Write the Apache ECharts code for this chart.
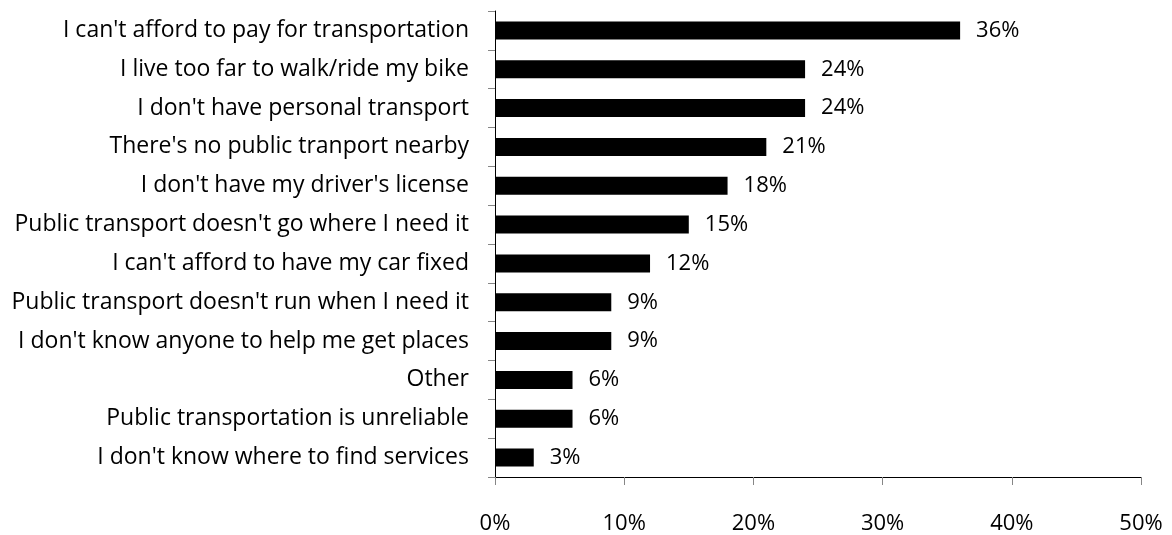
<!DOCTYPE html>
<html>
<head>
<meta charset="utf-8">
<script src="https://cdn.jsdelivr.net/npm/echarts@6/dist/echarts.min.js"></script>
<style>
  html, body { margin: 0; padding: 0; background: #fff; }
  #chart { width: 1172px; height: 535px; }
</style>
</head>
<body>
<div id="chart"></div>
<script>
// Reasons respondents give for transportation barriers (share of respondents, %)
const categories = [
  "I can't afford to pay for transportation",
  "I live too far to walk/ride my bike",
  "I don't have personal transport",
  "There's no public tranport nearby",
  "I don't have my driver's license",
  "Public transport doesn't go where I need it",
  "I can't afford to have my car fixed",
  "Public transport doesn't run when I need it",
  "I don't know anyone to help me get places",
  "Other",
  "Public transportation is unreliable",
  "I don't know where to find services"
];
const values = [36, 24, 24, 21, 18, 15, 12, 9, 9, 6, 6, 3];
const xTicks = [0, 10, 20, 30, 40, 50];

const FONT = "'Open Sans', sans-serif";

const chart = echarts.init(document.getElementById('chart'));
chart.setOption({
  animation: false,
  grid: { left: 495, right: 31, top: 11, bottom: 55 },
  xAxis: {
    type: 'value',
    min: xTicks[0],
    max: xTicks[xTicks.length - 1],
    interval: xTicks[1] - xTicks[0],
    splitLine: { show: false },
    axisLine: { show: true, lineStyle: { color: '#000', width: 1 } },
    axisTick: { show: true, length: 8, lineStyle: { color: '#868686' } },
    axisLabel: {
      margin: 36,
      color: '#000',
      fontFamily: FONT,
      fontSize: 22,
      formatter: v => v + '%'
    }
  },
  yAxis: {
    type: 'category',
    data: categories,
    inverse: true,
    axisLine: { show: true, lineStyle: { color: '#000', width: 1 } },
    axisTick: { show: true, length: 7, alignWithLabel: false, lineStyle: { color: '#868686' } },
    axisLabel: {
      margin: 26,
      color: '#000',
      fontFamily: FONT,
      fontSize: 23,
      padding: [3, 0, 0, 0]
    }
  },
  series: [{
    type: 'bar',
    data: values,
    barWidth: 18,
    itemStyle: { color: '#000' },
    label: {
      show: true,
      position: 'right',
      distance: 16,
      color: '#000',
      fontFamily: FONT,
      fontSize: 22,
      padding: [3, 0, 0, 0],
      formatter: p => p.value + '%'
    }
  }]
});
</script>
</body>
</html>
